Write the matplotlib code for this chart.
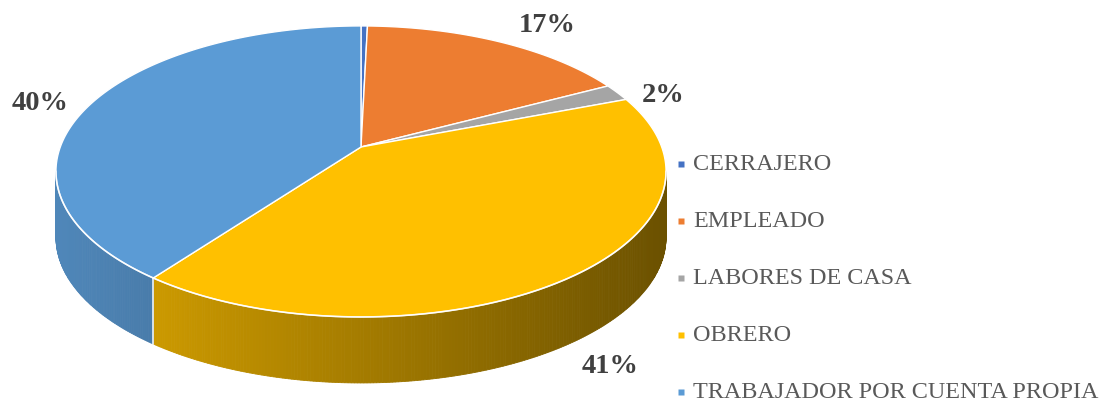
import numpy as np
import matplotlib.pyplot as plt
from matplotlib.patches import Polygon

# datos
categorias = ['CERRAJERO', 'EMPLEADO', 'LABORES DE CASA', 'OBRERO', 'TRABAJADOR POR CUENTA PROPIA']
porcentajes = [0.4, 16.9, 1.9, 41.0, 39.8]
colores = ['#4472C4', '#ED7D31', '#A5A5A5', '#FFC000', '#5B9BD5']

# geometria del pastel 3D (pixeles)
CX, CY = 361, 148
A, B, K = 300.7, 141.4, 0.168
PROF = 66
etiqueta_pos = {1: (547, 26), 2: (663, 95), 3: (610, 367), 4: (40, 103)}


def proyectar(ang, r=1.0):
    x = r * np.sin(ang)
    y = r * np.cos(ang)
    w = 1 + K * y
    return CX + A * x / w, CY - B * y / w


def sombra(px):
    # oscurece el lateral de izquierda a derecha
    return 0.87 - 0.45 * (px - 57) / 609


fig = plt.figure(figsize=(11.02, 4.02), dpi=100)
ax = fig.add_axes([0, 0, 1, 1])
ax.set_xlim(0, 1102)
ax.set_ylim(402, 0)
ax.axis('off')

total = sum(porcentajes)
cortes = np.concatenate([[0], np.cumsum(porcentajes)]) / total * 2 * np.pi
ang_der = np.arccos(-K)
ang_izq = 2 * np.pi - ang_der

base_rgb = [np.array(plt.matplotlib.colors.to_rgb(c)) for c in colores]

# laterales (solo la parte frontal)
for i in range(len(categorias)):
    a0 = max(cortes[i], ang_der)
    a1 = min(cortes[i + 1], ang_izq)
    if a1 <= a0:
        continue
    n = max(2, int(np.degrees(a1 - a0) * 2))
    angs = np.linspace(a0, a1, n)
    xs, ys = proyectar(angs)
    for j in range(n - 1):
        f = sombra((xs[j] + xs[j + 1]) / 2)
        col = np.clip(base_rgb[i] * f, 0, 1)
        quad = [(xs[j], ys[j]), (xs[j + 1], ys[j + 1]),
                (xs[j + 1], ys[j + 1] + PROF), (xs[j], ys[j] + PROF)]
        ax.add_patch(Polygon(quad, closed=True, facecolor=col, edgecolor=col, lw=0.6))
    ax.plot(xs, ys, color='white', lw=1.2, alpha=0.8)

# lineas de corte visibles en el lateral
for c in cortes[1:-1]:
    if ang_der < c < ang_izq:
        x0, y0 = proyectar(c)
        ax.plot([x0, x0], [y0, y0 + PROF], color='white', lw=1.2, alpha=0.9)

# cara superior
for i in range(len(categorias)):
    n = max(3, int(np.degrees(cortes[i + 1] - cortes[i]) * 2))
    angs = np.linspace(cortes[i], cortes[i + 1], n)
    xs, ys = proyectar(angs)
    pts = [(CX, CY)] + list(zip(xs, ys))
    ax.add_patch(Polygon(pts, closed=True, facecolor=colores[i], edgecolor='white', lw=1.0))

# etiquetas de porcentaje
for i, (px, py) in etiqueta_pos.items():
    ax.text(px, py, f'{round(porcentajes[i])}%', ha='center', va='center',
            fontsize=20.5, fontweight='bold', color='#404040', family='Liberation Serif')

# leyenda
for i, cat in enumerate(categorias):
    yy = 165 + i * 57
    ax.plot(680.5, yy, marker='s', markersize=5, color=colores[i], mec='none')
    ax.text(693, yy, cat, ha='left', va='center', fontsize=17.4,
            color='#595959', family='Liberation Serif')

fig.savefig('out.png', dpi=100)
